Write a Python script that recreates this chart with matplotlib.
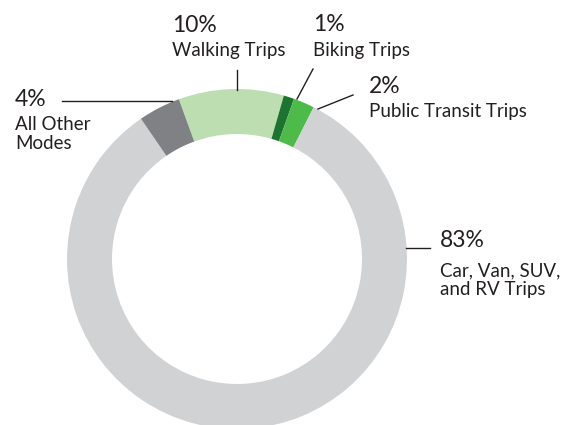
import matplotlib
matplotlib.use("Agg")
import matplotlib.pyplot as plt

categories = ["Walking Trips", "Biking Trips", "Public Transit Trips",
              "Car, Van, SUV,\nand RV Trips", "All Other\nModes"]
shares = [10, 1, 2, 83, 4]
pct_labels = ["10%", "1%", "2%", "83%", "4%"]
colors = ["#bcdeb0", "#1d7430", "#4dba4a", "#d1d2d4", "#808184"]

W, H = 567, 425
fig = plt.figure(figsize=(W / 100, H / 100), dpi=100)
ax = fig.add_axes([0, 0, 1, 1])

cx, cy, R = 237, H - 259, 170
ax.pie(shares, colors=colors, startangle=110, counterclock=False,
       center=(cx, cy), radius=R, frame=True,
       wedgeprops=dict(width=45, linewidth=0))
ax.set_xlim(0, W)
ax.set_ylim(0, H)
ax.set_aspect("equal")
ax.axis("off")

fam = ["Lato", "DejaVu Sans"]
tc = "#231f20"
lc = "#231f20"

# (x, pct baseline y, first label baseline y, leader line)
layout = [
    (172, 32, 56, [(237, 70), (237, 90)]),
    (313, 31, 56, [(313, 69), (297, 99)]),
    (369, 93, 117, [(353, 95), (318, 109)]),
    (440, 247, 276, [(430, 248), (406, 248)]),
    (15, 106, 130, [(62, 101), (172, 101)]),
]
line_step = 19

for cat, pct, (x, yp, yl, line) in zip(categories, pct_labels, layout):
    ax.text(x, H - yp, pct, fontsize=16.5, color=tc, family=fam,
            ha="left", va="baseline")
    for i, part in enumerate(cat.split("\n")):
        ax.text(x, H - (yl + i * line_step), part, fontsize=13.5, color=tc,
                family=fam, ha="left", va="baseline")
    xs = [p[0] for p in line]
    ys = [H - p[1] for p in line]
    ax.plot(xs, ys, color=lc, lw=1)

fig.savefig("out.png", dpi=100)
